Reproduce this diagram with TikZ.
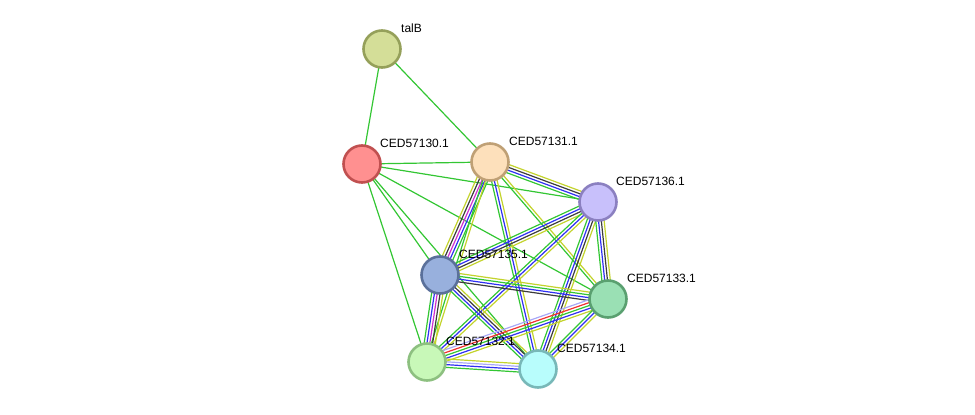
\documentclass[tikz,border=0pt]{standalone}
\usepackage{fontspec}
\setmainfont{Liberation Sans}
\usetikzlibrary{calc}
\pgfdeclarelayer{background}
\pgfsetlayers{background,main}
\definecolor{sgreen}{HTML}{33C633}
\definecolor{sblue}{HTML}{2F2FF2}
\definecolor{sblack}{HTML}{3C3C3C}
\definecolor{syellow}{HTML}{C3D32C}
\definecolor{smagenta}{HTML}{D030D0}
\definecolor{sred}{HTML}{F03030}
\definecolor{slav}{HTML}{A8A8F8}
\tikzset{
  prot/.style={circle, minimum size=37pt, inner sep=0pt, line width=2.6pt},
  lbl/.style={anchor=west, inner sep=0pt, font=\fontsize{12}{14}\selectfont},
  eline/.style={line width=1.2pt}
}
\newcommand\medge[3]{%
  \foreach \c [count=\i] in {#3} {\xdef\nn{\i}}%
  \foreach \c [count=\i] in {#3} {%
    \pgfmathsetmacro\off{(\i-(\nn+1)/2)*2.8}%
    \draw[eline, color=\c] ($(#1.center)!\off pt!90:(#2.center)$) -- ($(#2.center)!\off pt!-90:(#1.center)$);
  }%
}
\begin{document}
\begin{tikzpicture}[x=1pt,y=-1pt]
\useasboundingbox (0,0) rectangle (975,415);
\node[prot, fill={rgb,255:red,212;green,222;blue,152}, draw={rgb,255:red,149;green,160;blue,90}] (talB) at (382,49) {};
\node[prot, fill={rgb,255:red,255;green,144;blue,144}, draw={rgb,255:red,192;green,80;blue,80}] (n130) at (362,164) {};
\node[prot, fill={rgb,255:red,253;green,224;blue,187}, draw={rgb,255:red,191;green,160;blue,117}] (n131) at (490,162) {};
\node[prot, fill={rgb,255:red,200;green,192;blue,251}, draw={rgb,255:red,139;green,128;blue,192}] (n136) at (598,202) {};
\node[prot, fill={rgb,255:red,152;green,176;blue,221}, draw={rgb,255:red,90;green,112;blue,154}] (n135) at (440,275) {};
\node[prot, fill={rgb,255:red,154;green,224;blue,180}, draw={rgb,255:red,90;green,160;blue,112}] (n133) at (608,299) {};
\node[prot, fill={rgb,255:red,200;green,248;blue,184}, draw={rgb,255:red,141;green,192;blue,128}] (n132) at (427,362) {};
\node[prot, fill={rgb,255:red,184;green,253;blue,252}, draw={rgb,255:red,120;green,184;blue,184}] (n134) at (538,369) {};

\node[lbl] (ltalB) at (401,28) {talB};
\node[lbl] (l130) at (380,143) {CED57130.1};
\node[lbl] (l131) at (509,141) {CED57131.1};
\node[lbl] (l136) at (616,181) {CED57136.1};
\node[lbl] (l135) at (459,254) {CED57135.1};
\node[lbl] (l133) at (627,278) {CED57133.1};
\node[lbl] (l132) at (446,341) {CED57132.1};
\node[lbl] (l134) at (557,348) {CED57134.1};

\begin{pgfonlayer}{background}
\medge{talB}{n130}{sgreen}
\medge{talB}{n131}{sgreen}
\medge{n130}{n131}{sgreen}
\medge{n130}{n136}{sgreen}
\medge{n130}{n135}{sgreen}
\medge{n130}{n133}{sgreen}
\medge{n130}{n132}{sgreen}
\medge{n130}{n134}{sgreen}
\medge{n131}{n136}{sgreen,sblue,sblack,syellow}
\medge{n131}{n135}{syellow,sblack,smagenta,sblue,sgreen}
\medge{n131}{n132}{sgreen,syellow}
\medge{n131}{n134}{sgreen,sblue,syellow}
\medge{n131}{n133}{sgreen,syellow}
\medge{n136}{n135}{sgreen,sblue,sblack,syellow}
\medge{n136}{n132}{sgreen,sblue,syellow}
\medge{n136}{n134}{sgreen,sblue,sblack,syellow}
\medge{n136}{n133}{sgreen,sblue,sblack,syellow}
\medge{n135}{n133}{sblack,sblue,sgreen,syellow}
\medge{n135}{n132}{sgreen,sblue,smagenta,sblack,syellow}
\medge{n135}{n134}{sgreen,sblue,sblack,syellow}
\medge{n133}{n132}{slav,sred,sgreen,sblue,syellow}
\medge{n133}{n134}{sgreen,sblue,syellow}
\medge{n132}{n134}{sgreen,sblue,slav,syellow}
\end{pgfonlayer}
\end{tikzpicture}
\end{document}
